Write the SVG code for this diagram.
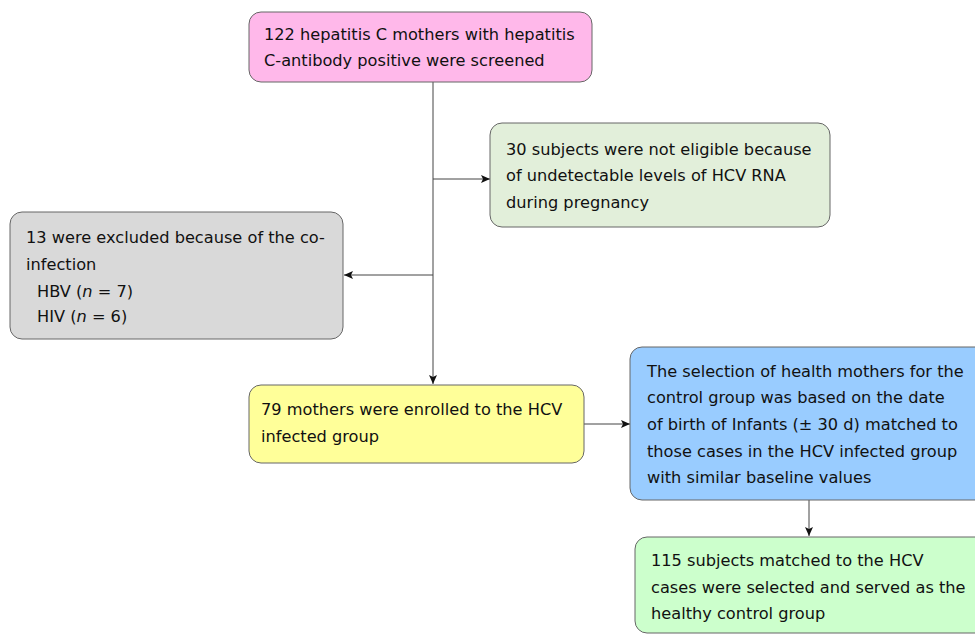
<svg xmlns="http://www.w3.org/2000/svg" width="975" height="635" viewBox="0 0 975 635">
<style>
.box{stroke:#666;stroke-width:1}
text{font-family:"DejaVu Sans",sans-serif;font-size:16.2px;fill:#111}
.ln{stroke:#444;stroke-width:1;fill:none}
</style>
<defs>
<marker id="ah" markerWidth="10" markerHeight="8" refX="9" refY="4" orient="auto" markerUnits="userSpaceOnUse">
<path d="M0,0 L9,4 L0,8 L2,4 Z" fill="#111"/>
</marker>
</defs>
<rect width="975" height="635" fill="#fff"/>
<g id="connectors">
<line class="ln" x1="433" y1="82" x2="433" y2="384" marker-end="url(#ah)"/>
<line class="ln" x1="433" y1="179" x2="490" y2="179" marker-end="url(#ah)"/>
<line class="ln" x1="433" y1="275" x2="344" y2="275" marker-end="url(#ah)"/>
<line class="ln" x1="584" y1="424" x2="630" y2="424" marker-end="url(#ah)"/>
<line class="ln" x1="809" y1="500" x2="809" y2="536" marker-end="url(#ah)"/>
</g>
<g id="n1">
<rect class="box" x="249" y="12" width="343" height="70" rx="12" fill="#FFB8EA"/>
<text x="264" y="40">122 hepatitis C mothers with hepatitis</text>
<text x="264" y="66">C-antibody positive were screened</text>
</g>
<g id="n2">
<rect class="box" x="490" y="123" width="340" height="104" rx="12" fill="#E2EFDA"/>
<text x="506" y="155">30 subjects were not eligible because</text>
<text x="506" y="181">of undetectable levels of HCV RNA</text>
<text x="506" y="208">during pregnancy</text>
</g>
<g id="n3">
<rect class="box" x="10" y="212" width="333" height="127" rx="12" fill="#D9D9D9"/>
<text x="26" y="243">13 were excluded because of the co-</text>
<text x="26" y="270">infection</text>
<text x="37" y="297">HBV (<tspan font-style="italic">n</tspan> = 7)</text>
<text x="37" y="322">HIV (<tspan font-style="italic">n</tspan> = 6)</text>
</g>
<g id="n4">
<rect class="box" x="249" y="385" width="335" height="78" rx="12" fill="#FFFF99"/>
<text x="261" y="415">79 mothers were enrolled to the HCV</text>
<text x="261" y="442">infected group</text>
</g>
<g id="n5">
<rect class="box" x="630" y="347" width="360" height="153" rx="12" fill="#99CCFF"/>
<text x="647" y="377">The selection of health mothers for the</text>
<text x="647" y="403">control group was based on the date</text>
<text x="647" y="430">of birth of Infants (± 30 d) matched to</text>
<text x="647" y="457">those cases in the HCV infected group</text>
<text x="647" y="483">with similar baseline values</text>
</g>
<g id="n6">
<rect class="box" x="635" y="537" width="355" height="96" rx="12" fill="#CCFFCC"/>
<text x="651" y="566">115 subjects matched to the HCV</text>
<text x="651" y="593">cases were selected and served as the</text>
<text x="651" y="619">healthy control group</text>
</g>
</svg>
